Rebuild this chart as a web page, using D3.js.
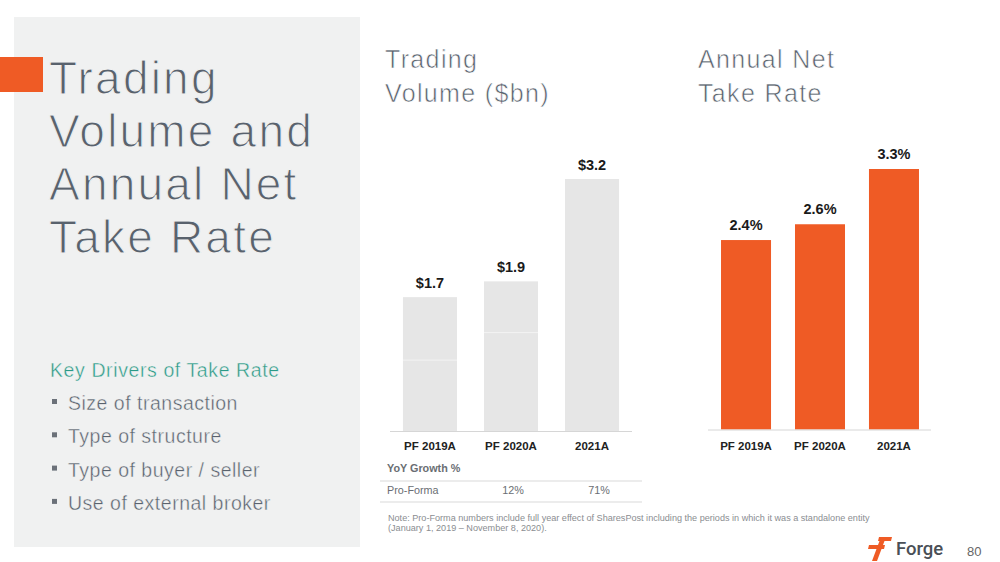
<!DOCTYPE html>
<html>
<head>
<meta charset="utf-8">
<script src="https://cdn.jsdelivr.net/npm/d3@7"></script>
<style>
  html, body { margin: 0; padding: 0; background: #ffffff; }
  svg { display: block; }
</style>
</head>
<body>
<svg id="chart" width="1000" height="562"></svg>
<script>
// ---- data ----
const categories = ["PF 2019A", "PF 2020A", "2021A"];
const volumeValues = [1.7, 1.9, 3.2];          // $bn
const volumeLowerSegment = [0.9, 1.25, null];   // faint split inside pro-forma bars
const takeRateValues = [2.4, 2.6, 3.3];         // %
const growthLabels = ["Pro-Forma", "12%", "71%"];
const titleLines = ["Trading", "Volume and", "Annual Net", "Take Rate"];
const drivers = ["Size of transaction", "Type of structure", "Type of buyer / seller", "Use of external broker"];
const noteLines = [
  "Note: Pro-Forma numbers include full year effect of SharesPost including the periods in which it was a standalone entity",
  "(January 1, 2019 \u2013 November 8, 2020)."
];

const svg = d3.select("#chart");
const HELV = "'Liberation Sans', Arial, sans-serif";
const BOLD = "'Liberation Sans', Arial, sans-serif";
const TXT = "#59626d";
const ORANGE = "#ef5b25";
const PANEL = "#f0f1f1";

// ---- left panel ----
svg.append("rect").attr("x", 14).attr("y", 17).attr("width", 346).attr("height", 530).attr("fill", PANEL);
svg.append("rect").attr("x", 0).attr("y", 57).attr("width", 43).attr("height", 35).attr("fill", ORANGE);

svg.append("g").selectAll("text").data(titleLines).join("text")
  .attr("x", 49).attr("y", (d, i) => 94 + i * 53)
  .attr("font-family", HELV).attr("font-size", 46)
  .attr("letter-spacing", 2.2).attr("fill", TXT)
  .attr("stroke", PANEL).attr("stroke-width", 1.1)
  .text(d => d);

svg.append("text").attr("x", 50).attr("y", 377)
  .attr("font-family", HELV).attr("font-size", 19.5)
  .attr("letter-spacing", 0.6).attr("fill", "#2a9a86")
  .attr("stroke", PANEL).attr("stroke-width", 0.4)
  .text("Key Drivers of Take Rate");

const dg = svg.append("g").selectAll("g").data(drivers).join("g")
  .attr("transform", (d, i) => `translate(0, ${410 + i * 33.3})`);
dg.append("rect").attr("x", 52).attr("y", -11).attr("width", 5).attr("height", 5).attr("fill", "#6b7179");
dg.append("text").attr("x", 68).attr("y", 0)
  .attr("font-family", HELV).attr("font-size", 19.5)
  .attr("letter-spacing", 0.5).attr("fill", TXT)
  .attr("stroke", PANEL).attr("stroke-width", 0.4)
  .text(d => d);

// ---- chart titles ----
function chartTitle(x, lines) {
  svg.append("g").selectAll("text").data(lines).join("text")
    .attr("x", x).attr("y", (d, i) => 68 + i * 34)
    .attr("font-family", HELV).attr("font-size", 25)
    .attr("letter-spacing", 1.35).attr("fill", TXT)
    .attr("stroke", "#ffffff").attr("stroke-width", 0.6)
    .text(d => d);
}
chartTitle(385, ["Trading", "Volume ($bn)"]);
chartTitle(698, ["Annual Net", "Take Rate"]);

// ---- chart 1: trading volume ----
const x1 = d3.scaleBand().domain(categories).range([390, 632]).paddingInner(0.333).paddingOuter(0.16);
const y1 = d3.scaleLinear().domain([0, 3.2]).range([431, 179]);

const g1 = svg.append("g");
g1.selectAll("rect.bar").data(volumeValues).join("rect").attr("class", "bar")
  .attr("x", (d, i) => x1(categories[i])).attr("width", x1.bandwidth())
  .attr("y", d => y1(d)).attr("height", d => y1(0) - y1(d))
  .attr("fill", "#e6e6e6");
g1.selectAll("line.split").data(volumeLowerSegment.map((v, i) => ({ v, i })).filter(d => d.v != null)).join("line")
  .attr("class", "split")
  .attr("x1", d => x1(categories[d.i])).attr("x2", d => x1(categories[d.i]) + x1.bandwidth())
  .attr("y1", d => y1(d.v)).attr("y2", d => y1(d.v))
  .attr("stroke", "#f3f3f3").attr("stroke-width", 1);
g1.selectAll("text.val").data(volumeValues).join("text").attr("class", "val")
  .attr("x", (d, i) => x1(categories[i]) + x1.bandwidth() / 2).attr("y", d => y1(d) - 9)
  .attr("text-anchor", "middle").attr("font-family", BOLD).attr("font-weight", 700)
  .attr("font-size", 14.5).attr("fill", "#1a1a1a").text(d => "$" + d3.format(".1f")(d));

const ax1 = g1.append("g").attr("transform", `translate(0, ${y1(0)})`)
  .call(d3.axisBottom(x1).tickSize(0).tickPadding(11));
ax1.select(".domain").attr("stroke", "#d6d6d6").attr("d", "M390,0.5H632");
ax1.selectAll("text").attr("font-family", BOLD).attr("font-weight", 700).attr("font-size", 11.5).attr("fill", "#222");

// growth table
svg.append("text").attr("x", 387).attr("y", 472).attr("font-family", BOLD).attr("font-weight", 700)
  .attr("font-size", 10.8).attr("fill", "#6a6e73").text("YoY Growth %");
svg.append("line").attr("x1", 380).attr("x2", 642).attr("y1", 481).attr("y2", 481).attr("stroke", "#d9d9d9");
svg.append("line").attr("x1", 380).attr("x2", 642).attr("y1", 502).attr("y2", 502).attr("stroke", "#d9d9d9");
const tableX = [387, 513, 599];
svg.append("g").selectAll("text").data(growthLabels).join("text")
  .attr("x", (d, i) => tableX[i]).attr("y", 494)
  .attr("text-anchor", (d, i) => i === 0 ? "start" : "middle")
  .attr("font-family", BOLD).attr("font-size", 10.8).attr("fill", "#6a6e73").text(d => d);

svg.append("g").selectAll("text").data(noteLines).join("text")
  .attr("x", 388).attr("y", (d, i) => 521 + i * 10)
  .attr("font-family", BOLD).attr("font-size", 9.1).attr("fill", "#8a8d91").text(d => d);

// ---- chart 2: take rate ----
const x2 = d3.scaleBand().domain(categories).range([708, 932]).paddingInner(0.324).paddingOuter(0.176);
const y2 = d3.scaleLinear().domain([0, 3.3]).range([429.5, 169]);

const g2 = svg.append("g");
g2.selectAll("rect").data(takeRateValues).join("rect")
  .attr("x", (d, i) => x2(categories[i])).attr("width", x2.bandwidth())
  .attr("y", d => y2(d)).attr("height", d => y2(0) - y2(d))
  .attr("fill", "#ef5b25");
g2.selectAll("text.val").data(takeRateValues).join("text").attr("class", "val")
  .attr("x", (d, i) => x2(categories[i]) + x2.bandwidth() / 2).attr("y", d => y2(d) - 10)
  .attr("text-anchor", "middle").attr("font-family", BOLD).attr("font-weight", 700)
  .attr("font-size", 14.5).attr("fill", "#1a1a1a").text(d => d3.format(".1f")(d) + "%");
const ax2 = g2.append("g").attr("transform", `translate(0, ${y2(0)})`)
  .call(d3.axisBottom(x2).tickSize(0).tickPadding(12));
ax2.select(".domain").attr("stroke", "#d6d6d6").attr("d", "M708,0.5H931");
ax2.selectAll("text").attr("font-family", BOLD).attr("font-weight", 700).attr("font-size", 11.5).attr("fill", "#222");

// ---- footer logo ----
const logo = svg.append("g");
logo.append("path").attr("d", "M879,537 H892 L891,541 H878 Z").attr("fill", ORANGE);
logo.append("path").attr("d", "M869,545 H885 L884,549 H868 Z").attr("fill", ORANGE);
logo.append("path").attr("d", "M881,537 H886 L877,561 H872 Z").attr("fill", ORANGE);
logo.append("text").attr("x", 896).attr("y", 555).attr("font-family", "Roboto, sans-serif").attr("font-weight", 500)
  .attr("font-size", 18.5).attr("fill", "#4a4f56").text("Forge");
svg.append("text").attr("x", 967).attr("y", 556).attr("font-family", HELV)
  .attr("font-size", 13).attr("fill", "#666").text("80");
</script>
</body>
</html>
